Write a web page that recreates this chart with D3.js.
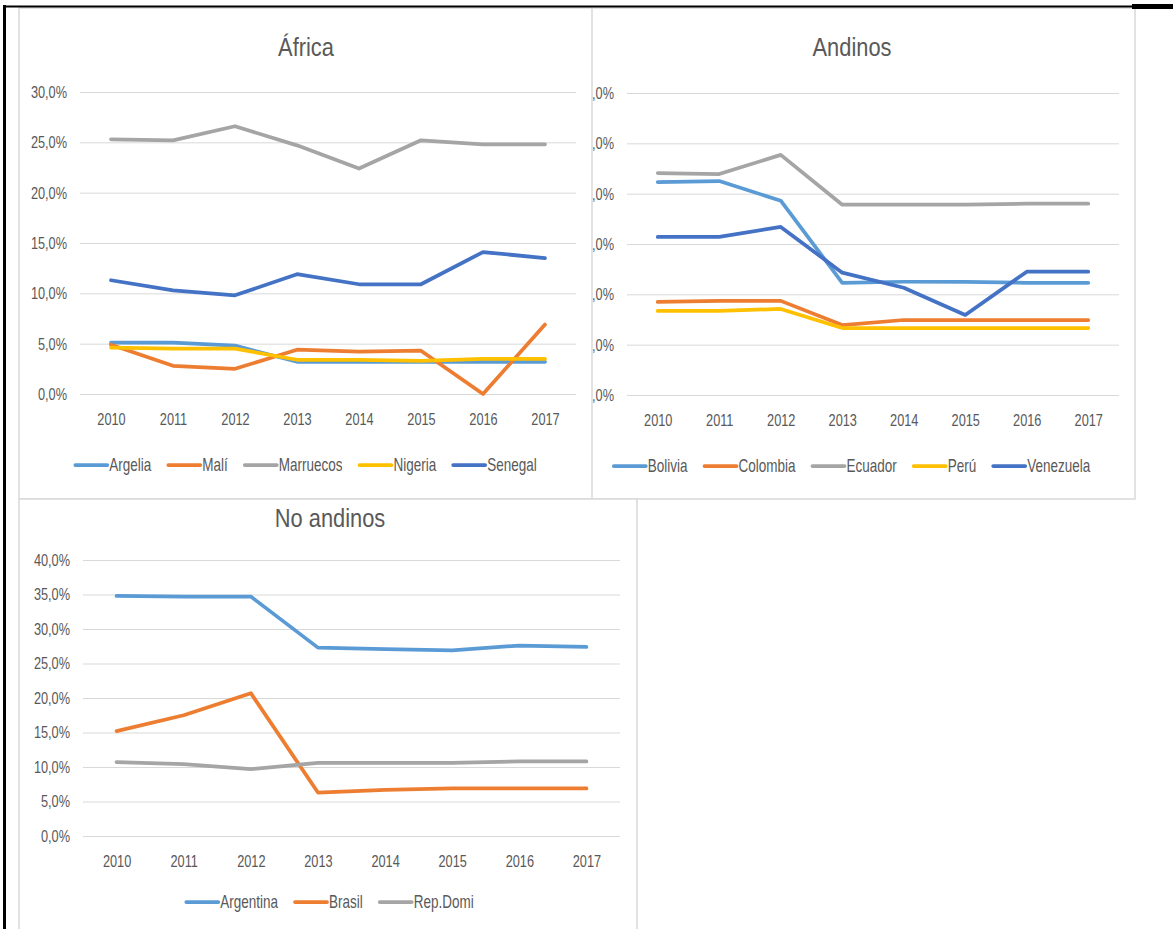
<!DOCTYPE html>
<html>
<head>
<meta charset="utf-8">
<script src="https://cdn.jsdelivr.net/npm/d3@7"></script>
<style>
  body { margin: 0; background: #fff; }
  text { font-family: "Liberation Sans", Arial, sans-serif; fill: #595959; }
</style>
</head>
<body>
<div id="charts"></div>
<script>
// data (share, in %)
const years = ["2010", "2011", "2012", "2013", "2014", "2015", "2016", "2017"];

const africaNames = ["Argelia", "Malí", "Marruecos", "Nigeria", "Senegal"];
const argelia   = [5.1, 5.1, 4.8, 3.2, 3.2, 3.2, 3.2, 3.2];
const mali      = [4.9, 2.8, 2.5, 4.4, 4.2, 4.3, 0.0, 6.9];
const marruecos = [25.3, 25.2, 26.6, 24.7, 22.4, 25.2, 24.8, 24.8];
const nigeria   = [4.6, 4.5, 4.5, 3.4, 3.4, 3.3, 3.5, 3.5];
const senegal   = [11.3, 10.3, 9.8, 11.9, 10.9, 10.9, 14.1, 13.5];

const andinosNames = ["Bolivia", "Colombia", "Ecuador", "Perú", "Venezuela"];
const bolivia   = [42.3, 42.5, 38.6, 22.3, 22.5, 22.5, 22.3, 22.3];
const colombia  = [18.5, 18.7, 18.7, 13.9, 14.9, 14.9, 14.9, 14.9];
const ecuador   = [44.1, 43.9, 47.7, 37.8, 37.8, 37.8, 38.0, 38.0];
const peru      = [16.7, 16.7, 17.1, 13.3, 13.3, 13.3, 13.3, 13.3];
const venezuela = [31.4, 31.4, 33.4, 24.3, 21.3, 15.9, 24.5, 24.5];

const noAndinosNames = ["Argentina", "Brasil", "Rep.Domi"];
const argentina = [34.8, 34.7, 34.7, 27.3, 27.1, 26.9, 27.6, 27.4];
const brasil    = [15.2, 17.5, 20.7, 6.3, 6.7, 6.9, 6.9, 6.9];
const repDomi   = [10.7, 10.4, 9.7, 10.6, 10.6, 10.6, 10.8, 10.8];

const africaTicks = [0, 5, 10, 15, 20, 25, 30];
const andinosTicks = [0, 10, 20, 30, 40, 50, 60];
const noAndinosTicks = [0, 5, 10, 15, 20, 25, 30, 35, 40];

// excel default palette
const colors = ["#5B9BD5", "#ED7D31", "#A5A5A5", "#FFC000", "#4472C4"];

// the pasted charts are squeezed horizontally
const kText = 0.75;
const kTitle = 0.84;

const svg = d3.select("#charts")
  .append("svg")
  .attr("width", 1173)
  .attr("height", 929);

const fmt = v => v.toFixed(1).replace(".", ",") + "%";

function narrow(sel, k) {
  sel.each(function () {
    const t = d3.select(this);
    const x = +t.attr("x") || 0;
    t.attr("x", x / k).attr("transform", `scale(${k},1)`);
  });
}

function drawPanel(p) {
  const g = svg.append("g");

  // frame of the chart
  g.append("rect")
    .attr("x", p.frame[0]).attr("y", p.frame[1])
    .attr("width", p.frame[2]).attr("height", p.frame[3])
    .attr("fill", "#fff")
    .attr("stroke", "#D9D9D9")
    .attr("stroke-width", 1.5);

  const x = d3.scalePoint()
    .domain(years)
    .range([p.left, p.right])
    .padding(0.5);

  const y = d3.scaleLinear()
    .domain([0, d3.max(p.ticks)])
    .range([p.bottom, p.top]);

  // Y axis + gridlines
  const yAxis = g.append("g")
    .attr("transform", `translate(${p.left}, 0)`)
    .call(d3.axisLeft(y)
      .tickValues(p.ticks)
      .tickFormat(fmt)
      .tickSize(-(p.right - p.left))
      .tickPadding(13));
  yAxis.select(".domain").remove();
  yAxis.selectAll("line").attr("stroke", "#D9D9D9").attr("stroke-width", 1);
  yAxis.selectAll("text")
    .attr("fill", "#595959")
    .style("font-size", "17px")
    .call(narrow, kText);

  // X axis
  const xAxis = g.append("g")
    .attr("transform", `translate(0, ${p.bottom})`)
    .call(d3.axisBottom(x).tickSize(0).tickPadding(19));
  xAxis.select(".domain").remove();
  xAxis.selectAll("text")
    .attr("fill", "#595959")
    .style("font-size", "17px")
    .call(narrow, kText);

  // lines
  const line = d3.line()
    .x((d, i) => x(years[i]))
    .y(d => y(d));

  p.series.forEach(function (s, i) {
    g.append("path")
      .datum(s)
      .attr("fill", "none")
      .attr("stroke", colors[i])
      .attr("stroke-width", 3.75)
      .attr("stroke-linejoin", "round")
      .attr("stroke-linecap", "round")
      .attr("d", line);
  });

  // title
  g.append("text")
    .attr("x", p.cx)
    .attr("y", p.titleY)
    .attr("text-anchor", "middle")
    .style("font-size", "26px")
    .text(p.title)
    .call(narrow, kTitle);

  // legend, centered under the chart
  const leg = g.append("g");
  let pos = 0;
  p.names.forEach(function (n, i) {
    const item = leg.append("g").attr("transform", `translate(${pos}, 0)`);
    item.append("line")
      .attr("x1", 0).attr("x2", 32)
      .attr("stroke", colors[i])
      .attr("stroke-width", 3.75)
      .attr("stroke-linecap", "round");
    const t = item.append("text")
      .attr("x", 34)
      .attr("dy", "0.35em")
      .style("font-size", "18px")
      .text(n)
      .call(narrow, kText);
    pos += 34 + t.node().getComputedTextLength() * kText + 17;
  });
  pos -= 17;
  leg.attr("transform", `translate(${p.cx - pos / 2}, ${p.legendY})`);
}

// Andinos first: the Africa chart sits over its left edge
drawPanel({
  title: "Andinos", names: andinosNames,
  series: [bolivia, colombia, ecuador, peru, venezuela],
  ticks: andinosTicks,
  frame: [560, 8, 575, 491],
  left: 627, right: 1119, top: 93, bottom: 395,
  cx: 852, titleY: 56, legendY: 466
});

drawPanel({
  title: "África", names: africaNames,
  series: [argelia, mali, marruecos, nigeria, senegal],
  ticks: africaTicks,
  frame: [19, 8, 573, 491],
  left: 80, right: 576, top: 92, bottom: 394,
  cx: 306, titleY: 56, legendY: 465
});

drawPanel({
  title: "No andinos", names: noAndinosNames,
  series: [argentina, brasil, repDomi],
  ticks: noAndinosTicks,
  frame: [19, 499, 618, 450],
  left: 83, right: 620, top: 560, bottom: 836,
  cx: 330, titleY: 527, legendY: 902
});

// document borders around the pasted charts
svg.append("line")
  .attr("x1", 4.5).attr("x2", 4.5)
  .attr("y1", 5).attr("y2", 929)
  .attr("stroke", "#000").attr("stroke-width", 3);
svg.append("line")
  .attr("x1", 3).attr("x2", 1173)
  .attr("y1", 6.5).attr("y2", 6.5)
  .attr("stroke", "#000").attr("stroke-width", 2);
svg.append("rect")
  .attr("x", 1132).attr("y", 4)
  .attr("width", 41).attr("height", 5)
  .attr("fill", "#000");
</script>
</body>
</html>
